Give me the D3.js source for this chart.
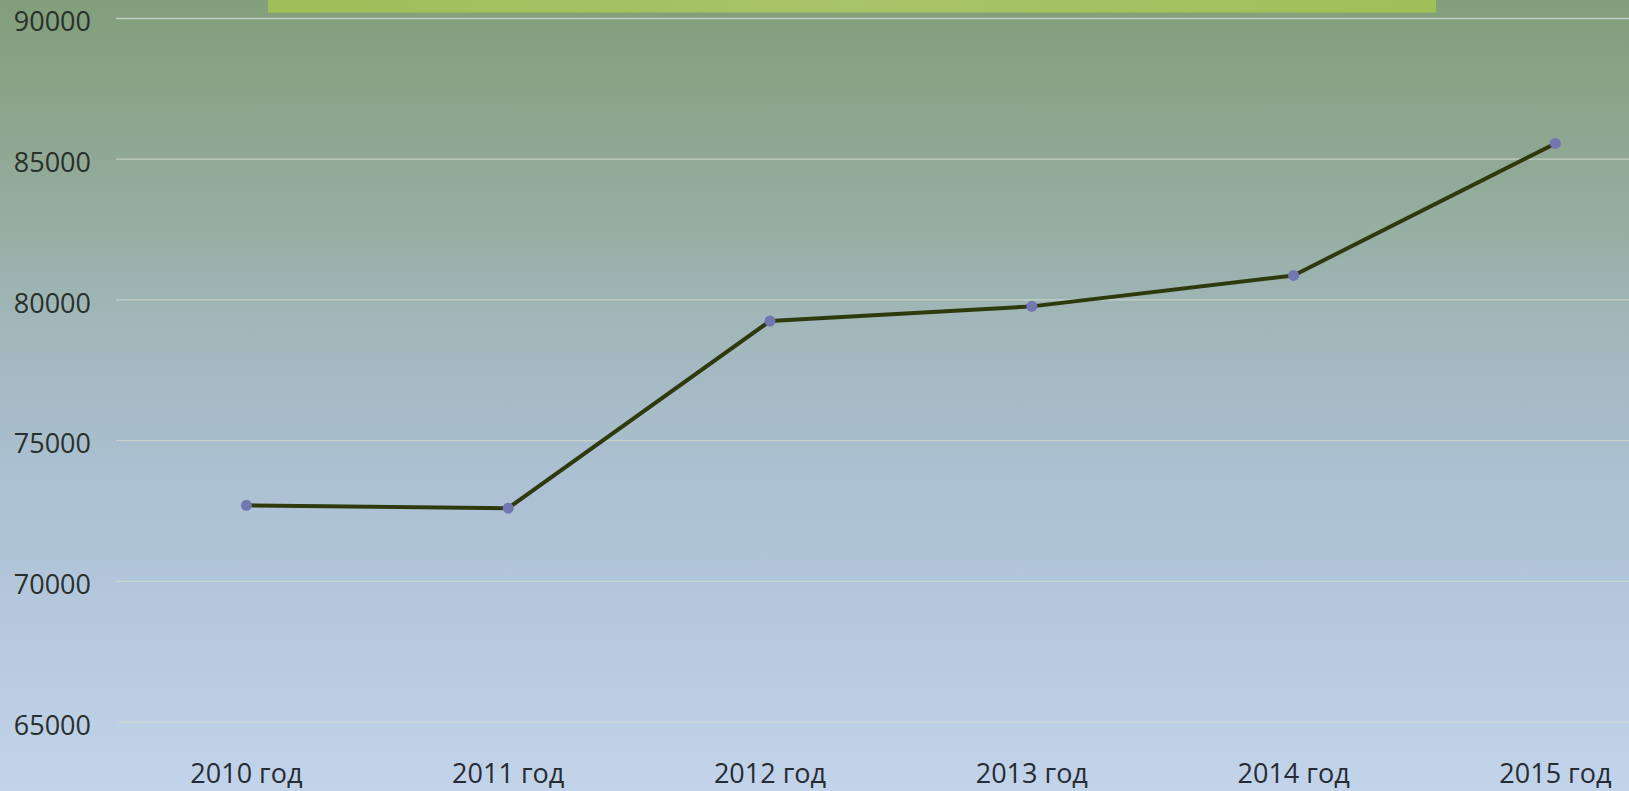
<!DOCTYPE html>
<html>
<head>
<meta charset="utf-8">
<script src="https://cdn.jsdelivr.net/npm/d3@7"></script>
<style>
  html, body { margin: 0; padding: 0; overflow: hidden; }
  svg { display: block; }
</style>
</head>
<body>
<svg id="chart" width="1629" height="791"></svg>
<script>
const categories = ["2010 год", "2011 год", "2012 год", "2013 год", "2014 год", "2015 год"];
const values = [72700, 72600, 79250, 79770, 80870, 85560];
const yTicks = [65000, 70000, 75000, 80000, 85000, 90000];

const W = 1629, H = 791;
const svg = d3.select("#chart");

const defs = svg.append("defs");
const bg = defs.append("linearGradient").attr("id", "bg").attr("x1", 0).attr("y1", 0).attr("x2", 0).attr("y2", 1);
[[0, "#829e7a"], [0.2, "#90a894"], [0.4, "#a0b6b8"], [0.6, "#abc0d2"], [0.8, "#b6c9df"], [1, "#c3d4ea"]]
  .forEach(([o, c]) => bg.append("stop").attr("offset", o).attr("stop-color", c));
const bar = defs.append("linearGradient").attr("id", "bar").attr("x1", 0).attr("y1", 0).attr("x2", 1).attr("y2", 0);
[[0, "#9ebf5a"], [0.5, "#a8c468"], [1, "#9fc05a"]]
  .forEach(([o, c]) => bar.append("stop").attr("offset", o).attr("stop-color", c));

svg.append("rect").attr("width", W).attr("height", H).attr("fill", "url(#bg)");
svg.append("rect").attr("x", 268).attr("y", 0).attr("width", 1168).attr("height", 13).attr("fill", "url(#bar)");
svg.append("rect").attr("x", 268).attr("y", 12).attr("width", 1168).attr("height", 1.5).attr("fill", "#8fa86a").attr("opacity", 0.6);

const x = d3.scaleBand().domain(categories).range([115.5, 115.5 + 6 * 261.8]);
const y = d3.scaleLinear().domain([65000, 90000]).range([722, 18.5]);

// gridlines
svg.append("g").selectAll("line").data(yTicks).join("line")
  .attr("x1", 116).attr("x2", W)
  .attr("y1", d => y(d)).attr("y2", d => y(d))
  .attr("stroke", "#cdd6cc").attr("stroke-opacity", 0.85).attr("stroke-width", 1.3);

// y axis
const yAxis = svg.append("g").attr("transform", "translate(91,0)")
  .call(d3.axisLeft(y).tickValues(yTicks).tickSize(0).tickPadding(0).tickFormat(d3.format("d")));
yAxis.select(".domain").remove();
yAxis.selectAll("text").attr("font-family", "'Open Sans', sans-serif").attr("font-size", 27)
  .attr("fill", "#28302c").attr("dy", "0.45em");

// x axis
const xAxis = svg.append("g").attr("transform", "translate(0,773)")
  .call(d3.axisBottom(x).tickSize(0).tickPadding(0));
xAxis.select(".domain").remove();
xAxis.selectAll("text").attr("font-family", "'Open Sans', sans-serif").attr("font-size", 27)
  .attr("fill", "#262c34").attr("dy", "0.36em");

const cx = d => x(d) + x.bandwidth() / 2;
const data = categories.map((c, i) => ({ c, v: values[i] }));

svg.append("path").datum(data)
  .attr("d", d3.line().x(d => cx(d.c)).y(d => y(d.v)))
  .attr("fill", "none").attr("stroke", "#2f3a0c").attr("stroke-width", 4).attr("stroke-linejoin", "round");

svg.append("g").selectAll("circle").data(data).join("circle")
  .attr("cx", d => cx(d.c)).attr("cy", d => y(d.v)).attr("r", 5.5)
  .attr("fill", "#7276b2");
</script>
</body>
</html>
